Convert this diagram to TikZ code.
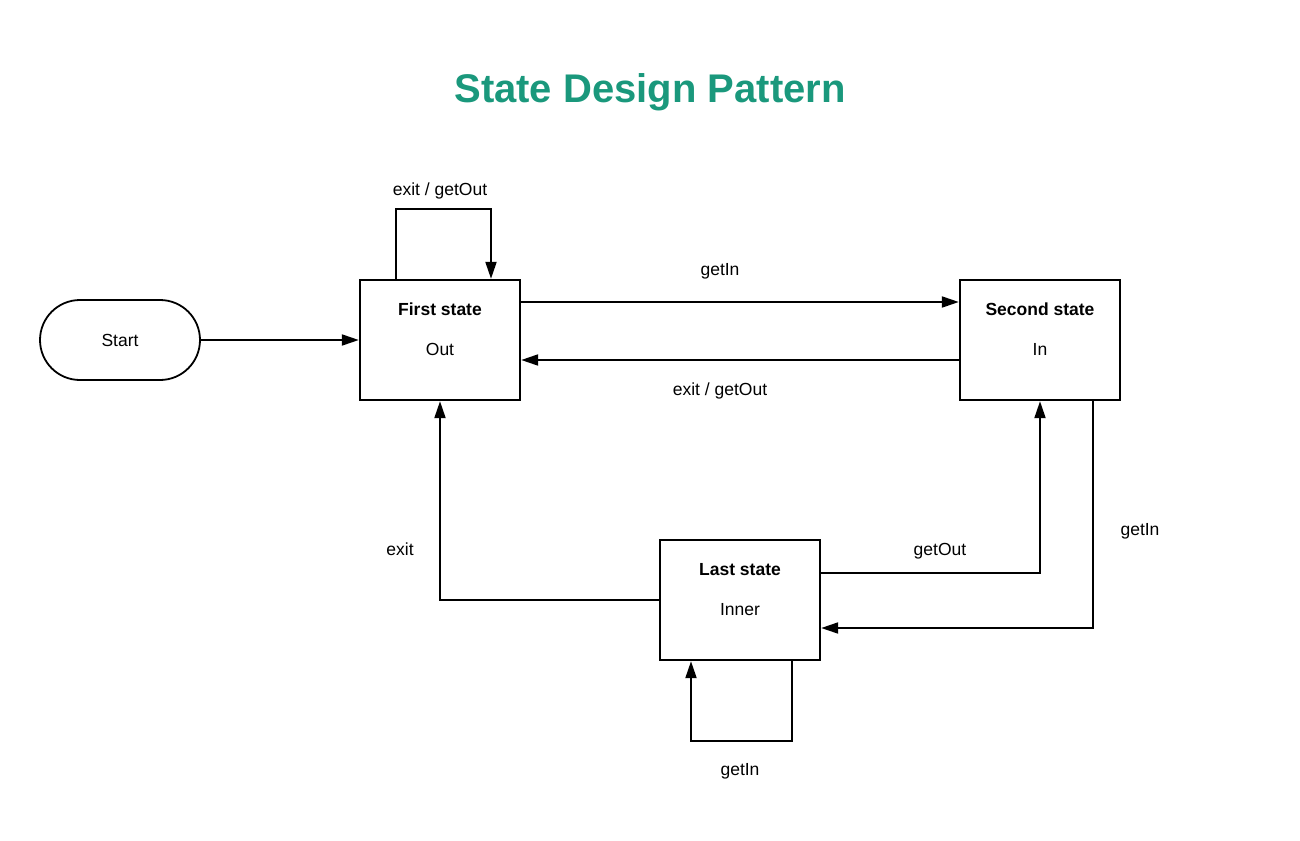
\documentclass[tikz,border=0pt]{standalone}
\usepackage{fontspec}
\setmainfont{Liberation Sans}
\usetikzlibrary{arrows.meta}
\definecolor{titlegreen}{HTML}{1A987C}

\begin{document}
\begin{tikzpicture}[x=1pt,y=-1pt,>={Triangle[length=17pt,width=11pt]},
  lbl/.style={inner sep=0pt,text height=12.6pt,text depth=0pt,font=\fontsize{17.5}{21}\selectfont},
  boxtitle/.style={lbl,font=\fontsize{17.5}{21}\selectfont\bfseries},
  statebox/.style={draw,line width=2.4pt,minimum width=160pt,minimum height=120pt,inner sep=0pt},
  conn/.style={->,line width=2pt}]
\useasboundingbox (0,0) rectangle (1300,840);
% title
\node[inner sep=0pt,text height=29pt,text depth=0pt,font=\fontsize{40}{48}\selectfont\bfseries,text=titlegreen] (title) at (650,88) {State Design Pattern};
% start and states
\node[draw,line width=1.8pt,rounded corners=40pt,minimum width=160pt,minimum height=80pt] (start) at (120,340) {};
\node[lbl] (starttext) at (start) {Start};
\node[statebox] (first) at (440,340) {};
\node[boxtitle] (firstname) at ([yshift=-30pt]first.north) {First state};
\node[lbl] (firstval) at ([yshift=-70pt]first.north) {Out};
\node[statebox] (second) at (1040,340) {};
\node[boxtitle] (secondname) at ([yshift=-30pt]second.north) {Second state};
\node[lbl] (secondval) at ([yshift=-70pt]second.north) {In};
\node[statebox] (last) at (740,600) {};
\node[boxtitle] (lastname) at ([yshift=-30pt]last.north) {Last state};
\node[lbl] (lastval) at ([yshift=-70pt]last.north) {Inner};
% transitions
\draw[conn] (start.east) -- (first.west);
\draw[conn] ([xshift=-44pt]first.north) -- ++(0,-70) -| ([xshift=51pt]first.north);
\draw[conn] ([yshift=38pt]first.east) -- ([yshift=38pt]second.west);
\draw[conn] ([yshift=-20pt]second.west) -- ([yshift=-20pt]first.east);
\draw[conn] (last.west) -| (first.south);
\draw[conn] ([yshift=27pt]last.east) -| (second.south);
\draw[conn] ([xshift=53pt]second.south) |- ([yshift=-28pt]last.east);
\draw[conn] ([xshift=52pt]last.south) -- ++(0,80) -| ([xshift=-49pt]last.south);
% transition labels
\node[lbl] (l1) at (440,189) {exit / getOut};
\node[lbl] (l2) at (720,269) {getIn};
\node[lbl] (l3) at (720,389) {exit / getOut};
\node[lbl] (l4) at (400,549) {exit};
\node[lbl] (l5) at (940,549) {getOut};
\node[lbl] (l6) at (1140,529) {getIn};
\node[lbl] (l7) at (740,769) {getIn};
\end{tikzpicture}
\end{document}
